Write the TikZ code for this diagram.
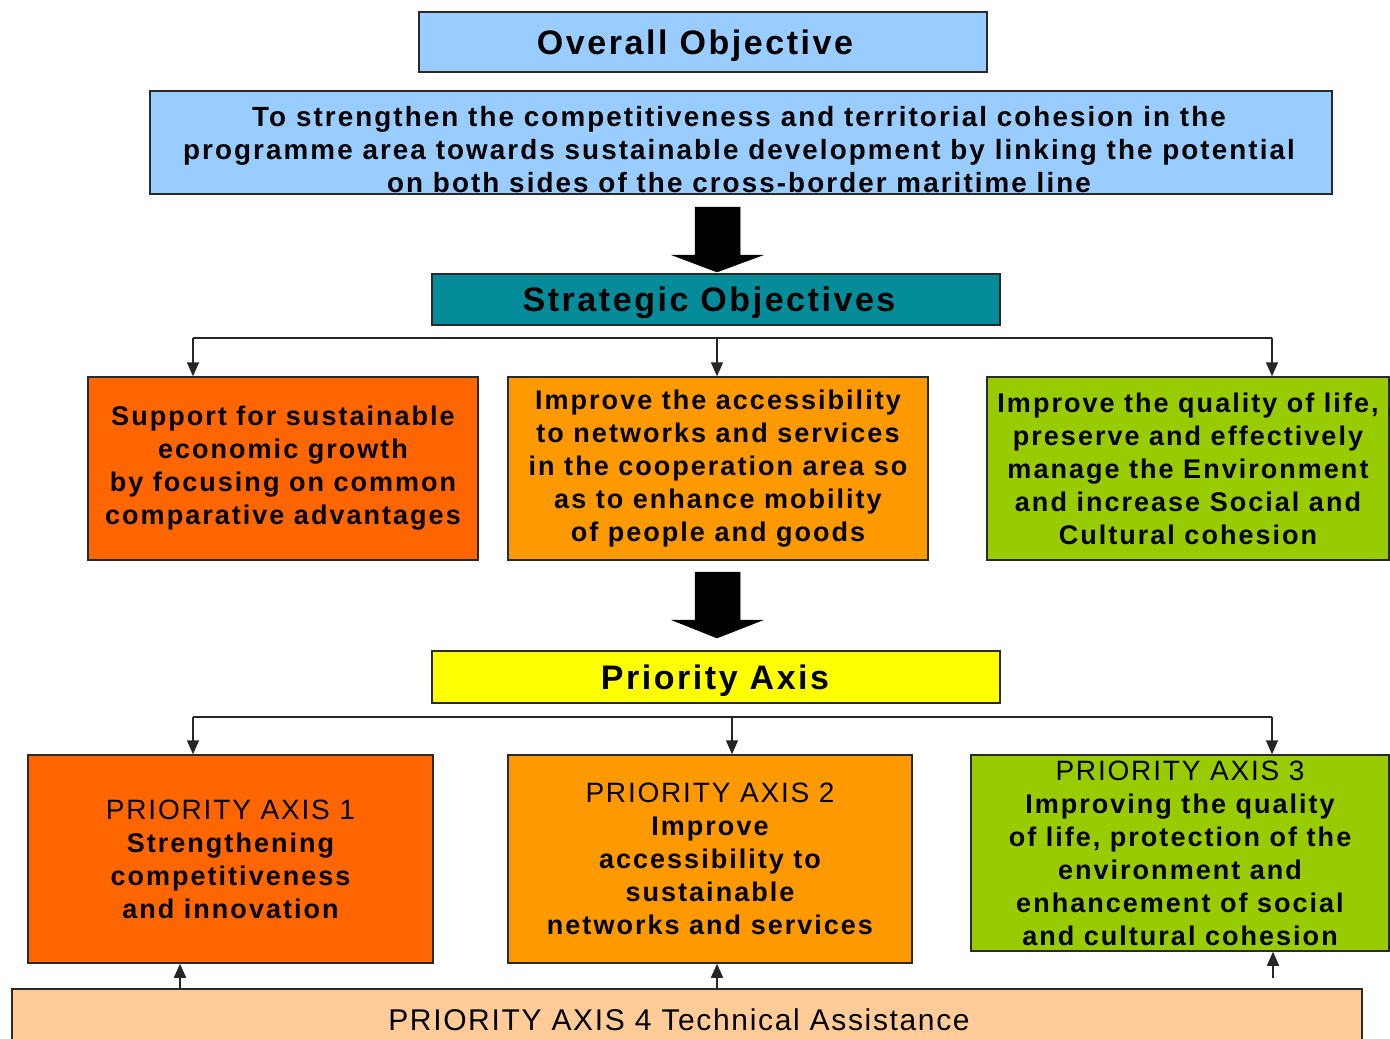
\documentclass[tikz,border=0pt]{standalone}
\usepackage{fontspec}
\setmainfont{Liberation Sans}[LetterSpace=7.5]
\newfontfamily\regsp{Liberation Sans}[LetterSpace=6.5]
\newfontfamily\regspb{Liberation Sans}[LetterSpace=5.5]
\usetikzlibrary{arrows.meta}
\definecolor{lblue}{HTML}{99CCFF}
\definecolor{teal2}{RGB}{4,140,155}
\definecolor{orangeA}{HTML}{FF6600}
\definecolor{orangeB}{HTML}{FF9900}
\definecolor{greenA}{HTML}{99CC00}
\definecolor{yellowA}{HTML}{FFFF00}
\definecolor{peach}{HTML}{FFCC99}
\definecolor{bordergray}{HTML}{2A2A2A}
\begin{document}
\begin{tikzpicture}[x=1pt,y=-1pt,
  box/.style={draw=bordergray, line width=1.5pt, inner sep=0pt, align=center, text=black},
  titletxt/.style={font=\fontsize{34}{40}\selectfont\bfseries, text height=24pt, text depth=0pt},
  bodytxt/.style={font=\fontsize{27}{33}\selectfont\bfseries, align=center, inner sep=0pt},
  conn/.style={draw=black!85, line width=1.6pt},
  arr/.style={conn, -{Triangle[length=14pt,width=12pt]}},
  bigarrow/.style={fill=black, draw=black, line width=0.5pt}]
\useasboundingbox (0,0) rectangle (1390,1039);
\clip (0,0) rectangle (1390,1039);

% Overall objective
\node[box, fill=lblue, minimum width=568pt, minimum height=60pt, titletxt] (oo) at (703,42) {\hspace*{-16pt}Overall Objective};
\node[box, fill=lblue, minimum width=1182pt, minimum height=103pt] (oobox) at (741,142.5) {};
\node[bodytxt, font=\fontsize{27.8}{33}\selectfont\bfseries] (ootxt) at (739,150) {To strengthen the competitiveness and territorial cohesion in the\\programme area towards sustainable development by linking the potential\\on both sides of the cross-border maritime line};

% big arrow 1
\fill[bigarrow] (695,207) -- (740,207) -- (740,255) -- (763,255) -- (717,272) -- (672,255) -- (695,255) -- cycle;

% Strategic objectives
\node[box, fill=teal2, minimum width=568pt, minimum height=51pt, titletxt] (so) at (716,299.5) {\hspace*{-14pt}Strategic Objectives};

\node[box, fill=orangeA, minimum width=390pt, minimum height=183pt, bodytxt] (s1) at (283,468.5) {Support for sustainable\\economic growth\\by focusing on common\\comparative advantages};
\node[box, fill=orangeB, minimum width=420pt, minimum height=183pt, bodytxt] (s2) at (718,468.5) {Improve the accessibility\\to networks and services\\in the cooperation area so\\as to enhance mobility\\of people and goods};
\node[box, fill=greenA, minimum width=402pt, minimum height=183pt, bodytxt] (s3) at (1188,468.5) {Improve the quality of life,\\preserve and effectively\\manage the Environment\\and increase Social and\\Cultural cohesion};

\coordinate (sl) at (193,338);
\coordinate (sm) at (717,338);
\coordinate (sr) at (1272,338);
\draw[conn] (sl) -- (sr);
\draw[arr] (sl) -- (sl |- s1.north);
\draw[arr] (sm) -- (sm |- s2.north);
\draw[arr] (sr) -- (sr |- s3.north);

% big arrow 2
\fill[bigarrow] (695,572) -- (740,572) -- (740,620) -- (763,620) -- (717,638) -- (672,620) -- (695,620) -- cycle;

% Priority axis
\node[box, fill=yellowA, minimum width=568pt, minimum height=52pt, titletxt] (pa) at (716,677) {\hspace*{-2pt}Priority Axis};

\node[box, fill=orangeA, minimum width=405pt, minimum height=208pt, bodytxt] (p1) at (230.5,859) {{\regsp\mdseries\fontsize{28}{33}\selectfont PRIORITY AXIS 1}\\Strengthening\\competitiveness\\and innovation};
\node[box, fill=orangeB, minimum width=404pt, minimum height=208pt, bodytxt] (p2) at (710,859) {{\regsp\mdseries\fontsize{28}{33}\selectfont PRIORITY AXIS 2}\\Improve\\accessibility to\\sustainable\\networks and services};
\node[box, fill=greenA, minimum width=418pt, minimum height=196pt, bodytxt] (p3) at (1180,853) {{\regsp\mdseries\fontsize{28}{33}\selectfont PRIORITY AXIS 3}\\Improving the quality\\of life, protection of the\\environment and\\enhancement of social\\and cultural cohesion};

\coordinate (pl) at (193,717);
\coordinate (pm) at (732,717);
\coordinate (pr) at (1272,717);
\draw[conn] (pl) -- (pr);
\draw[arr] (pl) -- (pl |- p1.north);
\draw[arr] (pm) -- (pm |- p2.north);
\draw[arr] (pr) -- (pr |- p3.north);

% Priority axis 4
\node[box, fill=peach, minimum width=1350pt, minimum height=62pt, font=\regspb\fontsize{30}{33}\selectfont] (p4) at (687,1020) {\hspace*{-16pt}PRIORITY AXIS 4 Technical Assistance};

\coordinate (u1) at (180,989);
\coordinate (u2) at (717,989);
\coordinate (u3) at (1273,978);
\draw[arr] (u1) -- (u1 |- p1.south);
\draw[arr] (u2) -- (u2 |- p2.south);
\draw[arr] (u3) -- (u3 |- p3.south);
\end{tikzpicture}
\end{document}
